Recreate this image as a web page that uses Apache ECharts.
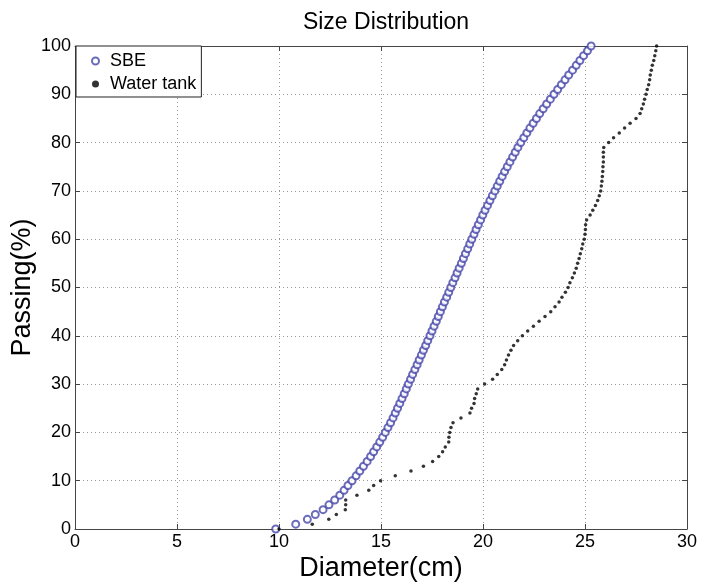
<!DOCTYPE html>
<html>
<head>
<meta charset="utf-8">
<script src="https://cdn.jsdelivr.net/npm/echarts@6/dist/echarts.min.js"></script>
<style>
	html, body { margin: 0; padding: 0; background: #fff; }
	#chart { width: 701px; height: 585px; }
</style>
</head>
<body>
<div id="chart"></div>
<script>
// passing levels shared by both series (%)
const passing = [
	0, 1, 2, 3, 4, 5, 6, 7, 8, 9, 10, 11, 12, 13, 14, 15, 16, 17, 18, 19,
	20, 21, 22, 23, 24, 25, 26, 27, 28, 29, 30, 31, 32, 33, 34, 35, 36, 37, 38, 39,
	40, 41, 42, 43, 44, 45, 46, 47, 48, 49, 50, 51, 52, 53, 54, 55, 56, 57, 58, 59,
	60, 61, 62, 63, 64, 65, 66, 67, 68, 69, 70, 71, 72, 73, 74, 75, 76, 77, 78, 79,
	80, 81, 82, 83, 84, 85, 86, 87, 88, 89, 90, 91, 92, 93, 94, 95, 96, 97, 98, 99, 100
];

// SBE diameter (cm) at each passing level
const sbeDiameter = [
	9.84, 10.82, 11.39, 11.78, 12.16, 12.45, 12.73, 12.98, 13.19, 13.38,
	13.58, 13.78, 13.96, 14.14, 14.32, 14.49, 14.64, 14.79, 14.94, 15.08,
	15.21, 15.34, 15.47, 15.59, 15.70, 15.81, 15.92, 16.03, 16.14, 16.24,
	16.34, 16.45, 16.55, 16.66, 16.77, 16.87, 16.98, 17.08, 17.19, 17.29,
	17.40, 17.50, 17.60, 17.71, 17.81, 17.91, 18.01, 18.11, 18.22, 18.32,
	18.42, 18.52, 18.63, 18.73, 18.83, 18.94, 19.04, 19.14, 19.25, 19.35,
	19.45, 19.56, 19.66, 19.77, 19.88, 19.99, 20.10, 20.22, 20.34, 20.46,
	20.58, 20.70, 20.82, 20.94, 21.06, 21.19, 21.32, 21.45, 21.58, 21.71,
	21.85, 22.00, 22.15, 22.30, 22.46, 22.62, 22.78, 22.95, 23.12, 23.30,
	23.48, 23.66, 23.84, 24.02, 24.20, 24.39, 24.57, 24.75, 24.93, 25.12, 25.30
];

// Water tank diameter (cm) at each passing level
const tankDiameter = [
	10.00, 11.63, 12.44, 12.81, 13.25, 13.27, 13.27, 13.82, 14.40, 14.64,
	14.98, 15.70, 16.47, 17.08, 17.53, 17.83, 18.02, 18.15, 18.32, 18.33,
	18.37, 18.43, 18.53, 18.92, 19.36, 19.44, 19.56, 19.59, 19.67, 19.74,
	20.08, 20.47, 20.70, 20.92, 21.06, 21.15, 21.25, 21.37, 21.50, 21.70,
	21.93, 22.19, 22.47, 22.75, 23.04, 23.32, 23.53, 23.73, 23.87, 24.04,
	24.17, 24.26, 24.38, 24.48, 24.57, 24.64, 24.71, 24.77, 24.84, 24.89,
	24.96, 25.00, 25.02, 25.03, 25.08, 25.25, 25.38, 25.51, 25.62, 25.70,
	25.77, 25.80, 25.83, 25.85, 25.87, 25.88, 25.90, 25.90, 25.90, 25.92,
	26.16, 26.40, 26.68, 26.94, 27.21, 27.50, 27.70, 27.78, 27.86, 27.92,
	27.99, 28.05, 28.12, 28.17, 28.20, 28.25, 28.30, 28.37, 28.42, 28.47, 28.51
];

const FONT = '"Liberation Sans", Arial, sans-serif';
const AXIS_COLOR = '#444';

const chart = echarts.init(document.getElementById('chart'), null, { renderer: 'canvas' });

// 轴的公共样式（MATLAB 风格：刻度朝内，点状网格）
function baseAxis(extra) {
	return Object.assign({
		type: 'value',
		min: 0,
		axisLine: { show: true, onZero: false, lineStyle: { color: AXIS_COLOR, width: 1 } },
		axisTick: { show: true, inside: true, length: 5, lineStyle: { color: AXIS_COLOR } },
		splitLine: { show: false },
		axisLabel: { show: false }
	}, extra);
}

chart.setOption({
	animation: false,
	backgroundColor: '#fff',
	title: {
		text: 'Size Distribution',
		left: 381,
		textAlign: 'center',
		top: 6,
		textStyle: { fontFamily: FONT, fontSize: 23, fontWeight: 'normal', color: '#000' }
	},
	grid: { left: 75, right: 14, top: 46, bottom: 56, outerBoundsMode: 'none', containLabel: false },
	legend: {
		left: 76,
		top: 46,
		orient: 'vertical',
		backgroundColor: '#fff',
		borderColor: '#222',
		borderWidth: 1,
		borderRadius: 0,
		padding: [5, 5, 3, 15],
		itemGap: 3,
		itemWidth: 7,
		itemHeight: 7,
		textStyle: { fontFamily: FONT, fontSize: 18, lineHeight: 20, color: '#000', padding: [0, 0, 0, 6] },
		data: [
			{ name: 'SBE', icon: 'emptyCircle' },
			{ name: 'Water tank', icon: 'circle' }
		]
	},
	xAxis: [
		baseAxis({
			max: 30,
			interval: 5,
			position: 'bottom',
			name: 'Diameter(cm)',
			nameLocation: 'middle',
			nameGap: 26,
			nameMoveOverlap: false,
			nameTextStyle: { fontFamily: FONT, fontSize: 27, color: '#000', verticalAlign: 'top' },
			axisLabel: { show: true, fontFamily: FONT, fontSize: 18, color: '#000', margin: 4 },
			splitLine: { show: true, lineStyle: { color: '#999', type: [1, 3], width: 1 } }
		}),
		baseAxis({ max: 30, interval: 5, position: 'top' })
	],
	yAxis: [
		baseAxis({
			max: 100,
			interval: 10,
			position: 'left',
			name: 'Passing(%)',
			nameLocation: 'middle',
			nameGap: 39,
			nameMoveOverlap: false,
			nameTextStyle: { fontFamily: FONT, fontSize: 27, color: '#000' },
			axisLabel: { show: true, fontFamily: FONT, fontSize: 18, color: '#000', margin: 4 },
			splitLine: { show: true, lineStyle: { color: '#999', type: [1, 3], width: 1 } }
		}),
		baseAxis({ max: 100, interval: 10, position: 'right' })
	],
	series: [
		{
			name: 'SBE',
			type: 'scatter',
			xAxisIndex: 0,
			yAxisIndex: 0,
			symbol: 'emptyCircle',
			symbolSize: 7,
			itemStyle: { color: '#4646aa', borderColor: '#4646aa', borderWidth: 0.7 },
			data: sbeDiameter.map((d, i) => [d, passing[i]])
		},
		{
			name: 'Water tank',
			type: 'scatter',
			xAxisIndex: 0,
			yAxisIndex: 0,
			symbol: 'circle',
			symbolSize: 3.5,
			itemStyle: { color: '#000' },
			data: tankDiameter.map((d, i) => [d, passing[i]])
		}
	]
});
</script>
</body>
</html>
